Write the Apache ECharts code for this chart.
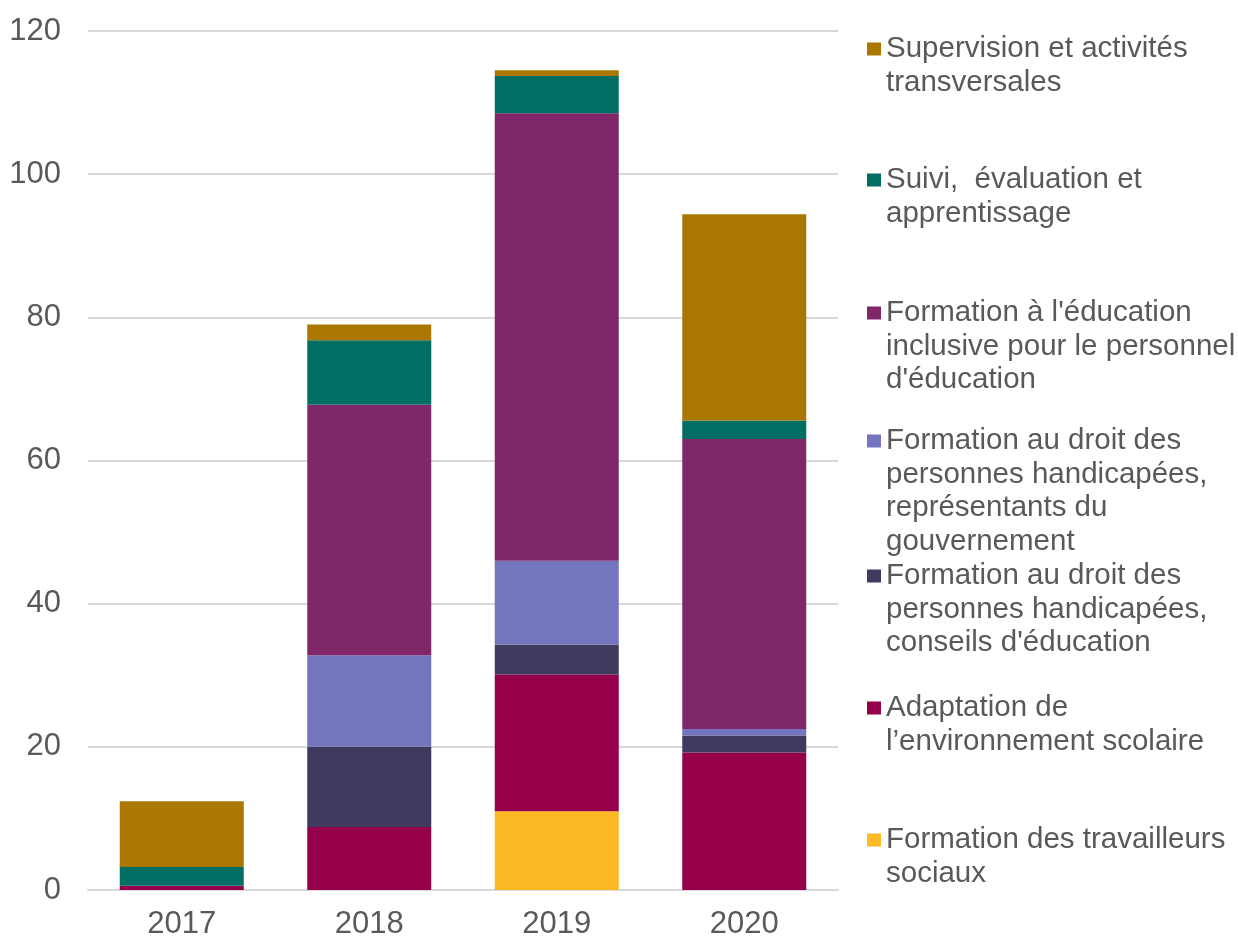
<!DOCTYPE html>
<html>
<head>
<meta charset="utf-8">
<script src="https://cdn.jsdelivr.net/npm/echarts@6/dist/echarts.min.js"></script>
<style>
  html, body { margin: 0; padding: 0; background: #fff; }
  #chart { width: 1238px; height: 940px; }
</style>
</head>
<body>
<div id="chart"></div>
<script>
const years = ['2017', '2018', '2019', '2020'];
const yTicks = [0, 20, 40, 60, 80, 100, 120];

// stacked from bottom to top
const seriesNames = [
  'Formation des travailleurs\nsociaux',
  'Adaptation de\nl\u2019environnement scolaire',
  'Formation au droit des\npersonnes handicapées,\nconseils d\'éducation',
  'Formation au droit des\npersonnes handicapées,\nreprésentants du\ngouvernement',
  'Formation à l\'éducation\ninclusive pour le personnel\nd\'éducation',
  'Suivi,  évaluation et\napprentissage',
  'Supervision et activités\ntransversales'
];
const travailleurs = [0, 0, 11.0, 0];
const adaptation = [0.6, 8.8, 19.1, 19.2];
const conseils = [0, 11.2, 4.2, 2.4];
const gouvernement = [0, 12.8, 11.7, 0.9];
const inclusive = [0, 35.0, 62.5, 40.5];
const suivi = [2.6, 9.0, 5.2, 2.6];
const supervision = [9.2, 2.2, 0.8, 28.8];

const seriesValues = [travailleurs, adaptation, conseils, gouvernement, inclusive, suivi, supervision];
const colors = ['#FDB924', '#96004B', '#3F3A5E', '#7575BF', '#7F2768', '#006E63', '#AA7700'];

// legend markers, listed from the top item down
const legendMarkerY = [49, 180, 313, 441, 576, 708, 840];
const lineH = 33.5;

const chart = echarts.init(document.getElementById('chart'));

// the marker sits on the first line: pad the text with empty lines above
// so the (vertically centred) block puts line one level with the marker
const legends = seriesNames.slice().reverse().map((name, i) => {
  const n = name.split('\n').length;
  return {
    data: [name],
    left: 867,
    top: legendMarkerY[i] - (2 * n - 1) * lineH / 2,
    padding: 0,
    icon: 'rect',
    itemWidth: 14,
    itemHeight: 13,
    selectedMode: false,
    formatter: nm => '\n'.repeat(n - 1) + nm,
    textStyle: {
      fontFamily: 'Liberation Sans',
      fontSize: 29.5,
      color: '#595959',
      lineHeight: lineH
    }
  };
});

const option = {
  animation: false,
  color: colors,
  textStyle: { fontFamily: 'Liberation Sans' },
  grid: {
    left: 88,
    right: 400,
    top: 31,
    bottom: 50
  },
  legend: legends,
  xAxis: {
    type: 'category',
    data: years,
    axisTick: { show: false },
    axisLine: { lineStyle: { color: '#d9d9d9', width: 2 } },
    axisLabel: {
      color: '#595959',
      fontSize: 31,
      margin: 19
    }
  },
  yAxis: {
    type: 'value',
    min: yTicks[0],
    max: yTicks[yTicks.length - 1],
    interval: 20,
    axisLine: { show: false },
    axisTick: { show: false },
    axisLabel: {
      color: '#595959',
      fontSize: 31,
      margin: 27
    },
    splitLine: {
      lineStyle: { color: '#d9d9d9', width: 2 }
    }
  },
  series: seriesNames.map((name, i) => ({
    name: name,
    type: 'bar',
    stack: 'total',
    barWidth: 124,
    itemStyle: { color: colors[i] },
    data: seriesValues[i]
  }))
};

chart.setOption(option);

window.addEventListener('resize', _ => {
  chart.resize();
});
</script>
</body>
</html>
